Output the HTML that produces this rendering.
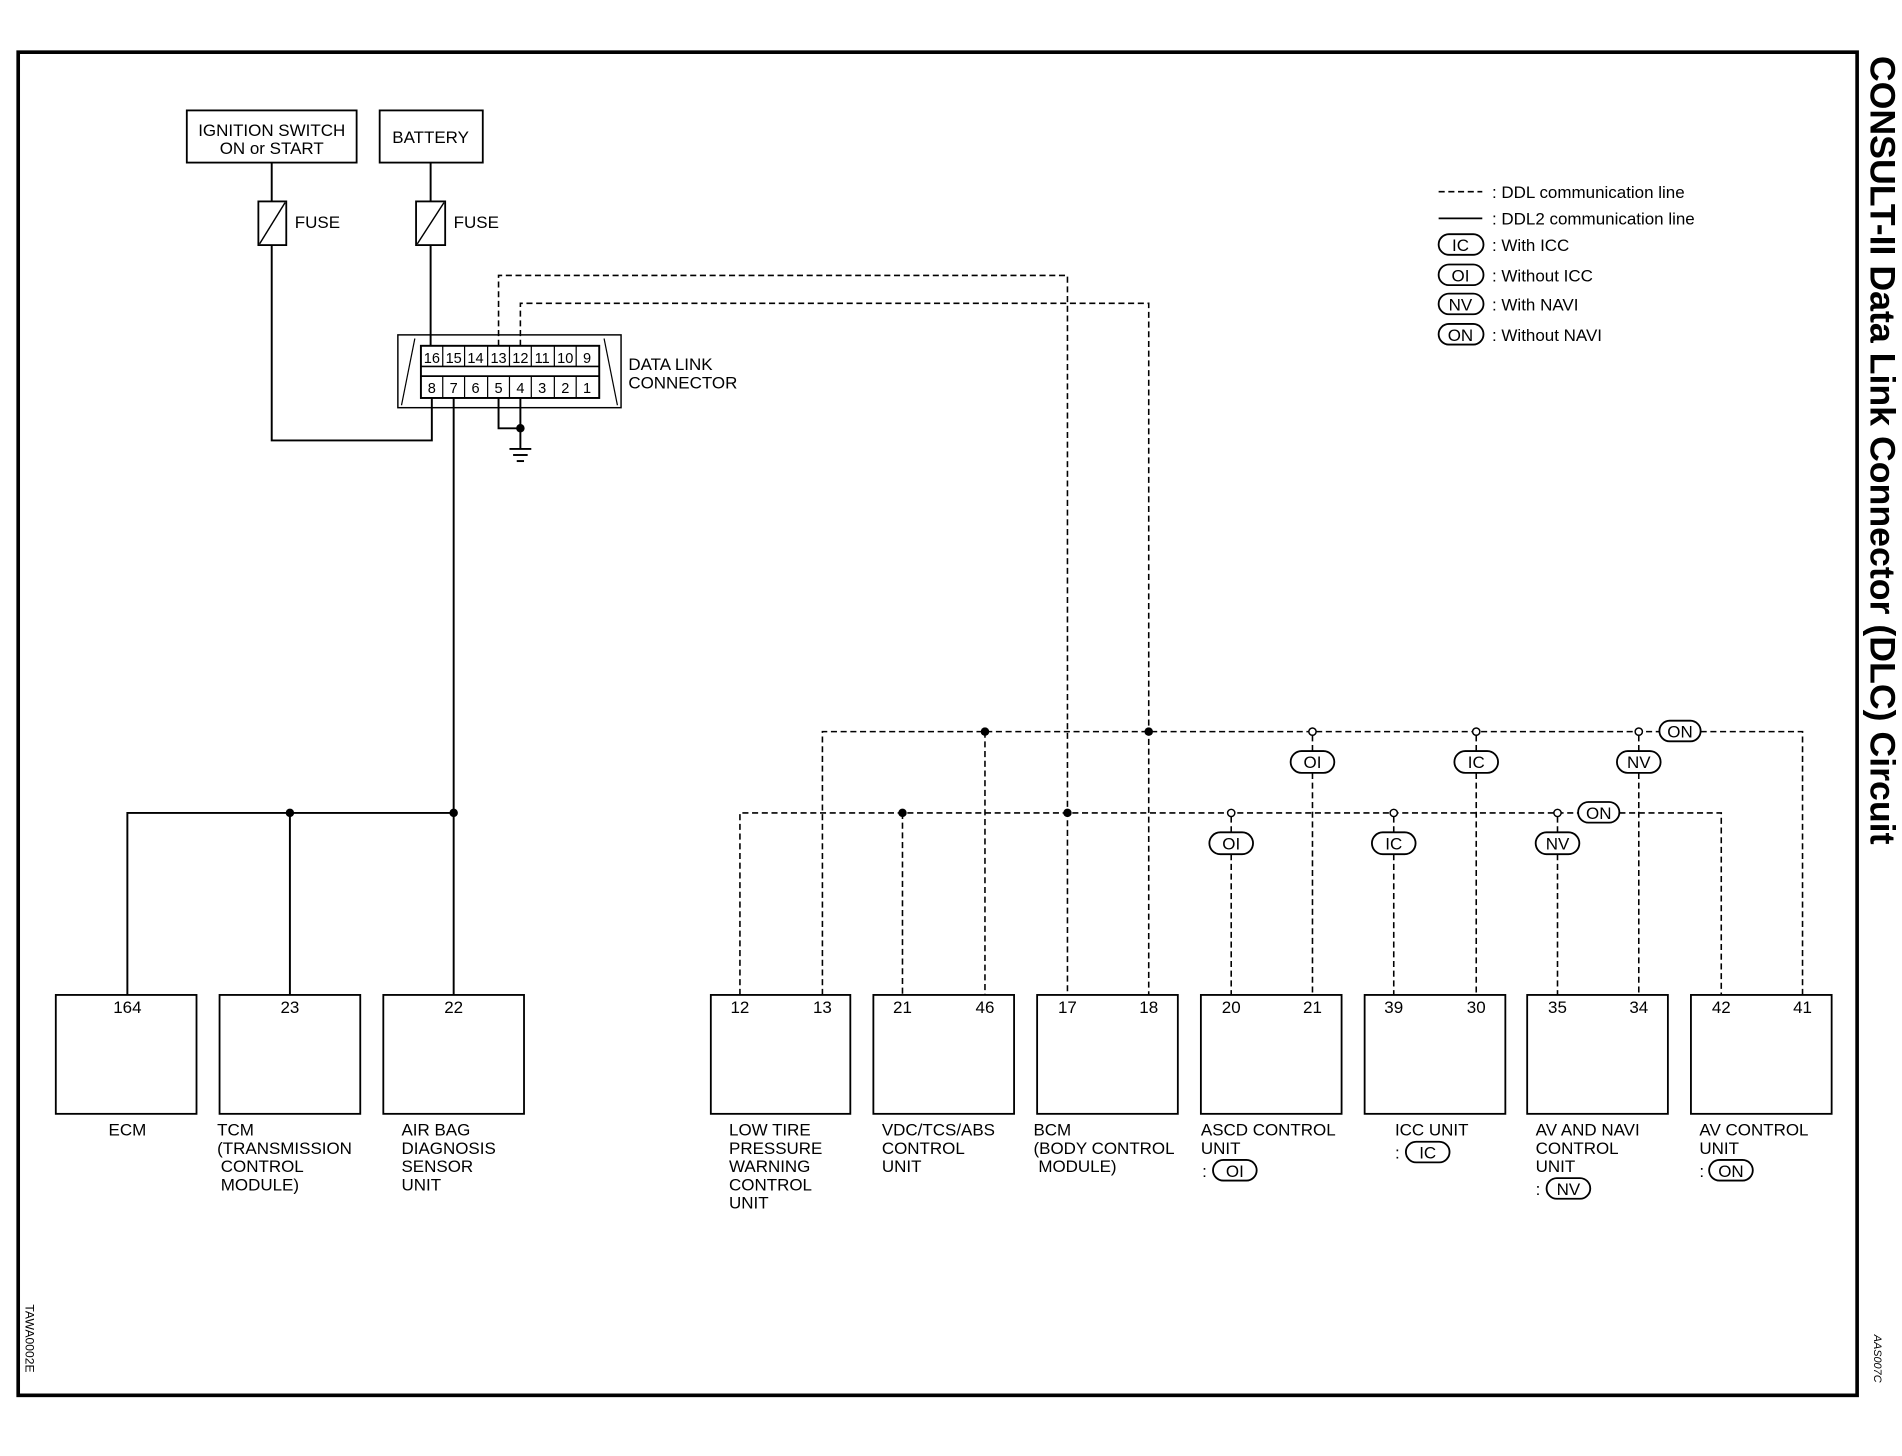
<!DOCTYPE html>
<html><head><meta charset="utf-8"><style>
html,body{margin:0;padding:0;background:#fff}
svg{display:block}
text{font-family:"Liberation Sans",sans-serif;fill:#000}
</style></head><body>
<svg width="1902" height="1456" viewBox="0 0 1568 1200" preserveAspectRatio="none" xmlns="http://www.w3.org/2000/svg">
<g fill="none" stroke="#000">
<rect x="15" y="43" width="1516" height="1107" stroke-width="3"/>
<rect x="154" y="91" width="140" height="43" stroke-width="1.5"/>
<rect x="313" y="91" width="85" height="43" stroke-width="1.5"/>
<rect x="213" y="166" width="23" height="36" stroke-width="1.5"/>
<line x1="214" y1="201" x2="235" y2="167" stroke-width="1.2"/>
<rect x="343" y="166" width="24" height="36" stroke-width="1.5"/>
<line x1="344" y1="201" x2="366" y2="167" stroke-width="1.2"/>
<g stroke-width="1.6">
<line x1="224" y1="134" x2="224" y2="166"/>
<polyline points="224,202 224,363 356,363 356,328"/>
<line x1="355" y1="134" x2="355" y2="166"/>
<line x1="355" y1="202" x2="355" y2="285"/>
<line x1="374" y1="328" x2="374" y2="820"/>
<polyline points="105,820 105,670 374,670"/>
<line x1="239" y1="670" x2="239" y2="820"/>
<polyline points="411,328 411,353 429,353"/>
<line x1="429" y1="328" x2="429" y2="370"/>
<line x1="420" y1="370" x2="438" y2="370"/>
<line x1="423" y1="375" x2="435" y2="375"/>
<line x1="426" y1="380" x2="432" y2="380"/>
</g>
<rect x="328" y="276" width="184" height="60" stroke-width="1.2"/>
<line x1="342" y1="279" x2="331" y2="334" stroke-width="1"/>
<line x1="498" y1="279" x2="509" y2="334" stroke-width="1"/>
<rect x="347" y="285" width="147" height="43" stroke-width="1.6"/>
<line x1="347" y1="302" x2="494" y2="302" stroke-width="1.4"/>
<line x1="347" y1="310" x2="494" y2="310" stroke-width="1.4"/>
<g stroke-width="1">
<line x1="365" y1="285" x2="365" y2="302"/><line x1="383" y1="285" x2="383" y2="302"/><line x1="402" y1="285" x2="402" y2="302"/><line x1="420" y1="285" x2="420" y2="302"/><line x1="438" y1="285" x2="438" y2="302"/><line x1="457" y1="285" x2="457" y2="302"/><line x1="475" y1="285" x2="475" y2="302"/>
<line x1="365" y1="310" x2="365" y2="328"/><line x1="383" y1="310" x2="383" y2="328"/><line x1="402" y1="310" x2="402" y2="328"/><line x1="420" y1="310" x2="420" y2="328"/><line x1="438" y1="310" x2="438" y2="328"/><line x1="457" y1="310" x2="457" y2="328"/><line x1="475" y1="310" x2="475" y2="328"/>
</g>
<g stroke-width="1.3" stroke-dasharray="5,3">
<polyline points="411,285 411,227 880,227 880,820"/>
<polyline points="429,285 429,250 947,250 947,820"/>
<polyline points="678,820 678,603 1368,603"/>
<polyline points="1402,603 1486,603 1486,820"/>
<polyline points="610,820 610,670 1301,670"/>
<polyline points="1335,670 1419,670 1419,820"/>
<line x1="812" y1="603" x2="812" y2="820"/>
<line x1="744" y1="670" x2="744" y2="820"/>
<line x1="1082" y1="606" x2="1082" y2="619"/><line x1="1082" y1="637" x2="1082" y2="820"/>
<line x1="1217" y1="606" x2="1217" y2="619"/><line x1="1217" y1="637" x2="1217" y2="820"/>
<line x1="1351" y1="606" x2="1351" y2="619"/><line x1="1351" y1="637" x2="1351" y2="820"/>
<line x1="1015" y1="673" x2="1015" y2="686"/><line x1="1015" y1="704" x2="1015" y2="820"/>
<line x1="1149" y1="673" x2="1149" y2="686"/><line x1="1149" y1="704" x2="1149" y2="820"/>
<line x1="1284" y1="673" x2="1284" y2="686"/><line x1="1284" y1="704" x2="1284" y2="820"/>
<line x1="1186" y1="158" x2="1222" y2="158"/>
</g>
<line x1="1186" y1="180" x2="1222" y2="180" stroke-width="1.5"/>
<g stroke-width="1.2" fill="#fff">
<circle cx="1082" cy="603" r="3"/><circle cx="1217" cy="603" r="3"/><circle cx="1351" cy="603" r="3"/>
<circle cx="1015" cy="670" r="3"/><circle cx="1149" cy="670" r="3"/><circle cx="1284" cy="670" r="3"/>
</g>
<g stroke-width="1.5" fill="#fff">
<rect x="1368" y="594" width="34" height="17" rx="8.5"/>
<rect x="1301" y="661" width="34" height="17" rx="8.5"/>
<rect x="1064" y="619" width="36" height="18" rx="9"/>
<rect x="1199" y="619" width="36" height="18" rx="9"/>
<rect x="1333" y="619" width="36" height="18" rx="9"/>
<rect x="997" y="686" width="36" height="18" rx="9"/>
<rect x="1131" y="686" width="36" height="18" rx="9"/>
<rect x="1266" y="686" width="36" height="18" rx="9"/>
<rect x="1186" y="193" width="37" height="17" rx="8.5"/>
<rect x="1186" y="218" width="37" height="17" rx="8.5"/>
<rect x="1186" y="242" width="37" height="17" rx="8.5"/>
<rect x="1186" y="267" width="37" height="17" rx="8.5"/>
<rect x="1000" y="956" width="36" height="17" rx="8.5"/>
<rect x="1159" y="941" width="36" height="17" rx="8.5"/>
<rect x="1275" y="971" width="36" height="17" rx="8.5"/>
<rect x="1409" y="956" width="36" height="17" rx="8.5"/>
</g>
<g stroke-width="1.5">
<rect x="46" y="820" width="116" height="98"/><rect x="181" y="820" width="116" height="98"/><rect x="316" y="820" width="116" height="98"/>
<rect x="586" y="820" width="115" height="98"/><rect x="720" y="820" width="116" height="98"/><rect x="855" y="820" width="116" height="98"/>
<rect x="990" y="820" width="116" height="98"/><rect x="1125" y="820" width="116" height="98"/><rect x="1259" y="820" width="116" height="98"/><rect x="1394" y="820" width="116" height="98"/>
</g>
</g>
<g fill="#000">
<circle cx="239" cy="670" r="3.5"/><circle cx="374" cy="670" r="3.5"/><circle cx="429" cy="353" r="3.5"/>
<circle cx="812" cy="603" r="3.5"/><circle cx="947" cy="603" r="3.5"/><circle cx="744" cy="670" r="3.5"/><circle cx="880" cy="670" r="3.5"/>
</g>
<g font-size="14">
<text x="224" y="112" text-anchor="middle">IGNITION SWITCH</text>
<text x="224" y="127" text-anchor="middle">ON or START</text>
<text x="355" y="118" text-anchor="middle">BATTERY</text>
<text x="243" y="188">FUSE</text><text x="374" y="188">FUSE</text>
<text x="518" y="305">DATA LINK</text><text x="518" y="320">CONNECTOR</text>
</g>
<g font-size="12" text-anchor="middle">
<text x="356" y="299">16</text><text x="374" y="299">15</text><text x="392" y="299">14</text><text x="411" y="299">13</text><text x="429" y="299">12</text><text x="447" y="299">11</text><text x="466" y="299">10</text><text x="484" y="299">9</text>
<text x="356" y="324">8</text><text x="374" y="324">7</text><text x="392" y="324">6</text><text x="411" y="324">5</text><text x="429" y="324">4</text><text x="447" y="324">3</text><text x="466" y="324">2</text><text x="484" y="324">1</text>
</g>
<g font-size="14" text-anchor="middle">
<text x="1385" y="608">ON</text><text x="1318" y="675">ON</text>
<text x="1082" y="633">OI</text><text x="1217" y="633">IC</text><text x="1351" y="633">NV</text>
<text x="1015" y="700">OI</text><text x="1149" y="700">IC</text><text x="1284" y="700">NV</text>
<text x="1204" y="207">IC</text><text x="1204" y="232">OI</text><text x="1204" y="256">NV</text><text x="1204" y="281">ON</text>
<text x="1018" y="970">OI</text><text x="1177" y="955">IC</text><text x="1293" y="985">NV</text><text x="1427" y="970">ON</text>
<text x="105" y="835">164</text><text x="239" y="835">23</text><text x="374" y="835">22</text>
<text x="610" y="835">12</text><text x="678" y="835">13</text><text x="744" y="835">21</text><text x="812" y="835">46</text>
<text x="880" y="835">17</text><text x="947" y="835">18</text><text x="1015" y="835">20</text><text x="1082" y="835">21</text>
<text x="1149" y="835">39</text><text x="1217" y="835">30</text><text x="1284" y="835">35</text><text x="1351" y="835">34</text>
<text x="1419" y="835">42</text><text x="1486" y="835">41</text>
<text x="105" y="936">ECM</text>
</g>
<g font-size="14">
<text x="1230" y="163">: DDL communication line</text>
<text x="1230" y="185">: DDL2 communication line</text>
<text x="1230" y="207">: With ICC</text><text x="1230" y="232">: Without ICC</text>
<text x="1230" y="256">: With NAVI</text><text x="1230" y="281">: Without NAVI</text>
<text x="179" y="936">TCM</text><text x="179" y="951">(TRANSMISSION</text><text x="182" y="966">CONTROL</text><text x="182" y="981">MODULE)</text>
<text x="331" y="936">AIR BAG</text><text x="331" y="951">DIAGNOSIS</text><text x="331" y="966">SENSOR</text><text x="331" y="981">UNIT</text>
<text x="601" y="936">LOW TIRE</text><text x="601" y="951">PRESSURE</text><text x="601" y="966">WARNING</text><text x="601" y="981">CONTROL</text><text x="601" y="996">UNIT</text>
<text x="727" y="936">VDC/TCS/ABS</text><text x="727" y="951">CONTROL</text><text x="727" y="966">UNIT</text>
<text x="852" y="936">BCM</text><text x="852" y="951">(BODY CONTROL</text><text x="856" y="966">MODULE)</text>
<text x="990" y="936">ASCD CONTROL</text><text x="990" y="951">UNIT</text><text x="991" y="970">:</text>
<text x="1150" y="936">ICC UNIT</text><text x="1150" y="955">:</text>
<text x="1266" y="936">AV AND NAVI</text><text x="1266" y="951">CONTROL</text><text x="1266" y="966">UNIT</text><text x="1266" y="985">:</text>
<text x="1401" y="936">AV CONTROL</text><text x="1401" y="951">UNIT</text><text x="1401" y="970">:</text>
</g>
<text x="0" y="0" font-size="29" font-weight="bold" textLength="650" lengthAdjust="spacingAndGlyphs" transform="translate(1542,46) rotate(90)">CONSULT-II Data Link Connector (DLC) Circuit</text>
<text x="0" y="0" font-size="10" transform="translate(21,1075) rotate(90)">TAWA0002E</text>
<text x="0" y="0" font-size="9" font-style="italic" transform="translate(1545,1100) rotate(90)">AAS007C</text>
</svg>
</body></html>
